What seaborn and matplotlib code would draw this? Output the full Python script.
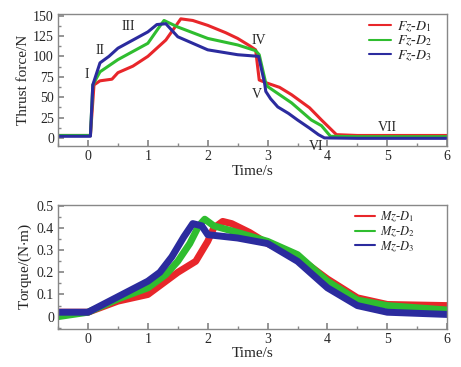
import seaborn as sns
import numpy as np
import pandas as pd
import matplotlib
matplotlib.use('Agg')
import matplotlib.pyplot as plt
from matplotlib.ticker import MultipleLocator

# ---- data ----
# thrust force (N)
fz_d1_t = [-0.5, 0.04, 0.1, 0.2, 0.4, 0.5, 0.75, 1.0, 1.3, 1.55, 1.75, 2.0, 2.3, 2.5, 2.7, 2.8, 2.86, 3.0, 3.2, 3.4, 3.7, 3.9, 4.15, 4.5, 6.0]
fz_d1 = [3, 3, 65, 70, 72, 80, 88, 100, 120, 146, 144, 138, 129, 122, 113, 108, 71, 67, 62, 53, 37, 22, 4, 3, 3]
fz_d2_t = [-0.5, 0.04, 0.08, 0.2, 0.5, 1.0, 1.2, 1.27, 1.5, 2.0, 2.5, 2.8, 2.86, 2.97, 3.0, 3.2, 3.4, 3.73, 3.9, 4.05, 4.5, 6.0]
fz_d2 = [3, 3, 65, 81, 96, 116, 137, 144, 136, 122, 114, 107, 102, 67, 63, 53, 43, 22, 15, 2, 1.5, 1.5]
fz_d3_t = [-0.5, 0.04, 0.08, 0.2, 0.35, 0.5, 1.0, 1.15, 1.3, 1.5, 2.0, 2.5, 2.85, 2.95, 2.97, 3.05, 3.17, 3.35, 3.5, 3.7, 3.85, 3.95, 4.5, 6.0]
fz_d3 = [2, 2, 65, 92, 100, 110, 130, 139, 140, 124, 108, 102, 100, 67, 57, 48, 38, 30, 22, 12, 4, 0, -0.5, -0.5]

# torque (N*m)
mz_d1_t = [-0.5, 0.0, 0.5, 1.0, 1.5, 1.8, 2.0, 2.1, 2.25, 2.4, 2.7, 3.0, 3.5, 4.0, 4.5, 5.0, 6.0]
mz_d1 = [0.02, 0.02, 0.07, 0.10, 0.20, 0.25, 0.34, 0.40, 0.43, 0.42, 0.38, 0.33, 0.27, 0.17, 0.085, 0.055, 0.05]
mz_d2_t = [-0.5, 0.0, 0.5, 1.0, 1.3, 1.5, 1.7, 1.85, 1.95, 2.1, 2.5, 3.0, 3.5, 4.0, 4.5, 5.0, 6.0]
mz_d2 = [0.0, 0.02, 0.08, 0.13, 0.19, 0.25, 0.33, 0.41, 0.44, 0.41, 0.38, 0.34, 0.28, 0.16, 0.075, 0.05, 0.03]
mz_d3_t = [-0.5, 0.0, 0.5, 1.0, 1.2, 1.4, 1.6, 1.75, 1.9, 2.0, 2.5, 3.0, 3.5, 4.0, 4.5, 5.0, 6.0]
mz_d3 = [0.02, 0.02, 0.09, 0.16, 0.20, 0.27, 0.36, 0.42, 0.41, 0.37, 0.355, 0.33, 0.25, 0.13, 0.05, 0.02, 0.01]

stage_labels = ['I', 'II', 'III', 'IV', 'V', 'VI', 'VII']
stage_t = [-0.02, 0.2, 0.67, 2.86, 2.82, 3.81, 5.0]
stage_f = [78, 107, 136, 119, 53, -10, 13]

colors = ['#e8262a', '#2fbd2f', '#2b2b9e']

sns.set_theme(style='ticks')
plt.rcParams['font.family'] = ['Liberation Serif', 'DejaVu Serif']
plt.rcParams['mathtext.fontset'] = 'stix'

fig = plt.figure(figsize=(4.61, 3.67), dpi=100)
ax1 = fig.add_axes([0.126, 0.602, 0.844, 0.36])
ax2 = fig.add_axes([0.126, 0.104, 0.844, 0.338])

top = [(fz_d1_t, fz_d1, r'$Fz$-$D_1$'), (fz_d2_t, fz_d2, r'$Fz$-$D_2$'), (fz_d3_t, fz_d3, r'$Fz$-$D_3$')]
for (t, v, lab), c in zip(top, colors):
    sns.lineplot(x=t, y=v, ax=ax1, color=c, lw=2.2, label=lab, sort=False)

bot = [(mz_d1_t, mz_d1, r'$Mz$-$D_1$'), (mz_d2_t, mz_d2, r'$Mz$-$D_2$'), (mz_d3_t, mz_d3, r'$Mz$-$D_3$')]
for (t, v, lab), c in zip(bot, colors):
    sns.lineplot(x=t, y=v, ax=ax2, color=c, lw=5.0, label=lab, sort=False)

for s, x, y in zip(stage_labels, stage_t, stage_f):
    ax1.text(x, y, s, ha='center', va='center', fontsize=10, clip_on=False)

ax1.set_xlim(-0.5, 6)
ax1.set_ylim(-10, 152)
ax1.yaxis.set_major_locator(MultipleLocator(25))
ax1.yaxis.set_minor_locator(MultipleLocator(12.5))
ax1.set_ylabel('Thrust force/N', fontsize=11, labelpad=2)

ax2.set_xlim(-0.5, 6)
ax2.set_ylim(-0.055, 0.505)
ax2.yaxis.set_major_locator(MultipleLocator(0.1))
ax2.yaxis.set_minor_locator(MultipleLocator(0.05))
ax2.set_yticks([0, 0.1, 0.2, 0.3, 0.4, 0.5])
ax2.set_yticklabels(['0', '0.1', '0.2', '0.3', '0.4', '0.5'])
ax2.set_ylabel('Torque/(N$\\cdot$m)', fontsize=11, labelpad=2)

for ax in (ax1, ax2):
    ax.xaxis.set_major_locator(MultipleLocator(1))
    ax.xaxis.set_minor_locator(MultipleLocator(0.5))
    ax.set_xlabel('Time/s', fontsize=11, labelpad=1)
    ax.tick_params(which='both', direction='in', color='#888888', labelsize=10, pad=3)
    ax.tick_params(which='major', length=4)
    ax.tick_params(which='minor', length=2.5)
    for sp in ax.spines.values():
        sp.set_color('#888888')
        sp.set_linewidth(1.0)

leg1 = ax1.legend(loc='upper left', bbox_to_anchor=(0.77, 1.045), frameon=False, fontsize=10,
                  handlelength=1.6, handletextpad=0.4, labelspacing=0.0, borderpad=0.3)
leg2 = ax2.legend(loc='upper left', bbox_to_anchor=(0.74, 1.03), frameon=False, fontsize=9,
                  handlelength=1.6, handletextpad=0.4, labelspacing=0.0, borderpad=0.2)
for leg in (leg1, leg2):
    for h in leg.get_lines():
        h.set_linewidth(1.5)

fig.savefig('out.png', dpi=100)
